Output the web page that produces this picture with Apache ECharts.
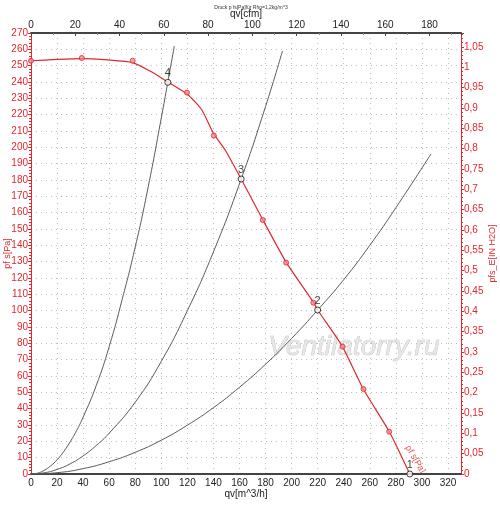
<!DOCTYPE html>
<html lang="de">
<head>
    <meta charset="UTF-8">
    <title>Druck p fs[Pa] für Rho=1,2kg/m^3</title>
    <script src="https://cdn.jsdelivr.net/npm/echarts@6/dist/echarts.min.js"></script>
    <style>
        body { margin: 0; background: #fff; }
        #chart { width: 500px; height: 505px; }
    </style>
</head>
<body>
    <div id="chart"></div>
    <script>
        // fan curve as drawn (qv in m^3/h, pfs in Pa)
        const fanQ = [0, 20, 39, 59, 78, 92, 105, 120, 131, 140, 149, 161.3, 178, 196, 217, 220, 239, 255, 275, 290.7];
        const fanP = [253, 253.8, 254.3, 253.5, 251.9, 246.4, 240, 232.5, 223, 208.6, 198.4, 180.6, 155.5, 129.4, 104.9, 100.4, 78, 52, 25.9, 0];

        // measured points on the fan curve
        const measQ = [0, 39, 78, 119.7, 140.3, 177.9, 195.8, 216.7, 239.1, 255.2, 274.9];
        const measP = [253, 254.7, 253, 233.5, 207.2, 155.5, 129.4, 104.9, 78, 52, 25.9];

        // operating points (intersections with system curves)
        const opQ = [105, 161.3, 220, 290.7];
        const opP = [239.8, 180.6, 100.4, 0];
        const opLabels = ['4', '3', '2', '1'];

        // system curves
        const sys4Q = [0, 5, 10, 15, 20, 25, 30, 35, 40, 50, 60, 70, 80, 90, 100, 105, 110];
        const sys4P = [0, 0.5, 2.2, 4.9, 8.7, 13.6, 19.6, 26.6, 34.8, 54, 78, 107, 139, 176, 218, 240, 262];
        const sys3Q = [0, 10, 20, 30, 40, 50, 60, 80, 100, 120, 140, 161.3, 180, 193];
        const sys3P = [0, 0.7, 2.8, 6.2, 11.1, 17.4, 25, 44, 69, 100, 136, 180.6, 225, 259];
        const sys2Q = [0, 20, 40, 60, 80, 100, 120, 140, 160, 180, 200, 220, 240, 260, 280, 307];
        const sys2P = [0, 0.8, 3.3, 7.5, 13.3, 20.7, 29.9, 40.6, 53.1, 67.2, 83, 100.4, 119, 140, 163, 196];

        const RED = '#e0282e';
        const Q_MAX = 330;             // m^3/h
        const P_MAX = 270;             // Pa
        const CFM = 1.69901;           // m^3/h per cfm
        const INH2O = 249.089;         // Pa per inch H2O

        const pair = (q, p) => q.map((v, i) => [v, p[i]]);
        const fanLine = pair(fanQ, fanP);

        const sysSeries = [pair(sys4Q, sys4P), pair(sys3Q, sys3P), pair(sys2Q, sys2P)].map(d => ({
            type: 'line', data: d, smooth: true, showSymbol: false, silent: true,
            lineStyle: { color: '#5a5a5a', width: 1 }, itemStyle: { color: '#5a5a5a' }, z: 2
        }));

        const dotted = { show: true, lineStyle: { color: '#bdbdbd', type: [1, 4], width: 1 } };

        let chart = echarts.init(document.getElementById('chart'));
        chart.setOption({
            animation: false,
            backgroundColor: '#fff',
            textStyle: { fontFamily: 'Liberation Sans' },
            title: {
                text: 'Druck p fs[Pa]für Rho=1,2kg/m^3',
                left: 246, top: 0, textAlign: 'center',
                textStyle: { fontSize: 5, fontWeight: 'normal', color: '#333' }
            },
            grid: { left: 31, right: 39, top: 33, bottom: 31, containLabel: false, outerBoundsMode: 'none' },
            xAxis: [
                {
                    type: 'value', position: 'bottom', min: 0, max: Q_MAX, interval: 20,
                    name: 'qv[m^3/h]', nameLocation: 'middle', nameGap: 15, nameMoveOverlap: false,
                    nameTextStyle: { color: '#222', fontSize: 10 },
                    axisLine: { onZero: false, lineStyle: { color: '#444', width: 2 } },
                    axisTick: { show: false },
                    axisLabel: { color: '#222', fontSize: 10, margin: 4, showMaxLabel: false },
                    splitLine: dotted
                },
                {
                    type: 'value', position: 'top', min: 0, max: Q_MAX / CFM, interval: 20,
                    name: 'qv[cfm]', nameLocation: 'middle', nameGap: 14, nameMoveOverlap: false,
                    nameTextStyle: { color: '#222', fontSize: 10 },
                    axisLine: { onZero: false, lineStyle: { color: '#444', width: 2 } },
                    axisTick: { show: true, inside: true, length: 3, lineStyle: { color: '#444' } },
                    minorTick: { show: true, splitNumber: 2, length: 2, lineStyle: { color: '#888' } },
                    axisLabel: { color: '#222', fontSize: 10, margin: 3, showMaxLabel: false },
                    splitLine: { show: false }
                }
            ],
            yAxis: [
                {
                    type: 'value', position: 'left', min: 0, max: P_MAX, interval: 10,
                    name: 'pf s[Pa]', nameLocation: 'middle', nameGap: 19, nameRotate: 90, nameMoveOverlap: false,
                    nameTextStyle: { color: RED, fontSize: 9 },
                    axisLine: { show: true, onZero: false, lineStyle: { color: RED, width: 1 } },
                    axisTick: { show: true, length: 3, lineStyle: { color: RED } },
                    minorTick: { show: true, splitNumber: 5, length: 2, lineStyle: { color: RED } },
                    axisLabel: { color: RED, fontSize: 10, margin: 3 },
                    splitLine: dotted
                },
                {
                    type: 'value', position: 'right', min: 0, max: P_MAX / INH2O, interval: 0.05,
                    name: 'pfs_E[IN H2O]', nameLocation: 'middle', nameGap: 27, nameRotate: 90, nameMoveOverlap: false,
                    nameTextStyle: { color: RED, fontSize: 9 },
                    axisLine: { show: true, onZero: false, lineStyle: { color: RED, width: 1 } },
                    axisTick: { show: true, length: 3, lineStyle: { color: RED } },
                    minorTick: { show: true, splitNumber: 5, length: 2, lineStyle: { color: RED } },
                    axisLabel: {
                        color: RED, fontSize: 10, margin: 3, showMaxLabel: false,
                        formatter: v => String(+v.toFixed(2)).replace('.', ',')
                    },
                    splitLine: { show: false }
                }
            ],
            graphic: [{
                type: 'text', left: 268, top: 333, silent: true, z: 1,
                style: {
                    text: 'Ventilatorry.ru', font: 'italic 28px "Liberation Sans"',
                    fill: 'rgba(228,228,228,0.9)', stroke: '#b8b8b8', lineWidth: 0.6
                }
            }],
            series: sysSeries.concat([
                {
                    type: 'line', data: fanLine, smooth: 0.2, showSymbol: false,
                    lineStyle: { color: RED, width: 1.2 }, itemStyle: { color: RED }, z: 3
                },
                {
                    type: 'scatter', data: pair(measQ, measP), symbol: 'circle', symbolSize: 5,
                    itemStyle: { color: '#f28a8a', borderColor: RED, borderWidth: 1 }, clip: false, z: 4
                },
                {
                    // curve name written along the end of the red curve
                    type: 'scatter', data: [fanLine[fanLine.length - 1]], symbolSize: 0, silent: true, z: 4,
                    label: {
                        show: true, formatter: 'ρf s[Pa]', color: RED, fontSize: 9,
                        position: 'inside', rotate: -60, offset: [-10, -12]
                    }
                },
                {
                    type: 'scatter', data: pair(opQ, opP), symbol: 'circle', symbolSize: 6,
                    itemStyle: { color: '#fff', borderColor: '#111', borderWidth: 1 }, clip: false, z: 5,
                    label: {
                        show: true, position: 'top', distance: 0, color: '#111', fontSize: 11,
                        formatter: p => opLabels[p.dataIndex]
                    }
                }
            ])
        });
    </script>
</body>
</html>
